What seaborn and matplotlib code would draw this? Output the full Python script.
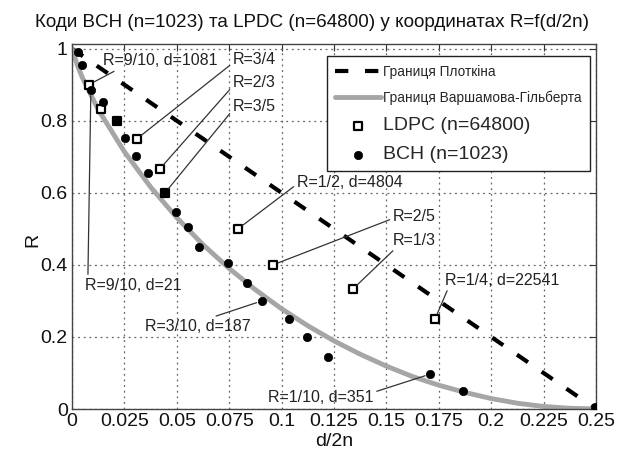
import matplotlib
matplotlib.use("Agg")
import matplotlib.pyplot as plt
import seaborn as sns
import pandas as pd

# ---------------- data ----------------
title = "Коди BCH (n=1023) та LPDC (n=64800) у координатах R=f(d/2n)"
xlabel = "d/2n"
ylabel = "R"

plotkin_x = [0.0, 0.25]
plotkin_r = [1.0, 0.0]

gv_x = [0.0, 0.0025, 0.005, 0.0125, 0.025, 0.0375, 0.05, 0.0625, 0.075, 0.0875,
        0.1, 0.1125, 0.125, 0.1375, 0.15, 0.1625, 0.175, 0.1875, 0.2, 0.2125,
        0.225, 0.2375, 0.25]
gv_r = [1.0, 0.955, 0.919, 0.831, 0.714, 0.616, 0.531, 0.456, 0.390, 0.331,
        0.278, 0.231, 0.189, 0.152, 0.119, 0.090, 0.066, 0.046, 0.029, 0.016,
        0.007, 0.002, 0.0]

ldpc_x = [0.008, 0.0138, 0.0215, 0.031, 0.042, 0.0444, 0.0792, 0.0959, 0.134, 0.1732]
ldpc_r = [0.9, 0.833, 0.8, 0.75, 0.667, 0.6, 0.5, 0.4, 0.333, 0.25]

bch_x = [0.003, 0.0048, 0.009, 0.0148, 0.0215, 0.0253, 0.0305, 0.0363, 0.0444,
         0.0496, 0.0553, 0.0606, 0.0744, 0.0835, 0.0906, 0.1035, 0.112, 0.122,
         0.171, 0.1865, 0.2495]
bch_r = [0.99, 0.955, 0.885, 0.853, 0.80, 0.753, 0.703, 0.655, 0.603, 0.547,
         0.505, 0.45, 0.405, 0.35, 0.30, 0.25, 0.20, 0.144, 0.097, 0.05, 0.006]

legend_labels = ["Границя Плоткіна", "Границя Варшамова-Гільберта",
                 "LDPC (n=64800)", "BCH (n=1023)"]

x_ticks = [0, 0.025, 0.05, 0.075, 0.1, 0.125, 0.15, 0.175, 0.2, 0.225, 0.25]
x_tick_labels = ["0", "0.025", "0.05", "0.075", "0.1", "0.125", "0.15", "0.175",
                 "0.2", "0.225", "0.25"]
y_ticks = [0, 0.2, 0.4, 0.6, 0.8, 1.0]
y_tick_labels = ["0", "0.2", "0.4", "0.6", "0.8", "1"]

# annotations: (text, series, index, text_x, text_y, relpos)
annotations = [
    ("R=9/10, d=1081", "ldpc", 0, 0.0148, 0.967, (0.15, 0.0)),
    ("R=3/4", "ldpc", 3, 0.0768, 0.969, (0.0, 0.3)),
    ("R=2/3", "ldpc", 4, 0.0768, 0.905, (0.0, 0.3)),
    ("R=3/5", "ldpc", 5, 0.0768, 0.839, (0.0, 0.3)),
    ("R=1/2, d=4804", "ldpc", 6, 0.1073, 0.628, (0.0, 0.4)),
    ("R=2/5", "ldpc", 7, 0.1531, 0.533, (0.0, 0.4)),
    ("R=1/3", "ldpc", 8, 0.1531, 0.469, (0.08, 0.0)),
    ("R=1/4, d=22541", "ldpc", 9, 0.1780, 0.358, (0.03, 0.0)),
    ("R=9/10, d=21", "bch", 2, 0.0062, 0.344, (0.03, 1.0)),
    ("R=3/10, d=187", "bch", 14, 0.0348, 0.228, (0.58, 1.0)),
    ("R=1/10, d=351", "bch", 18, 0.0935, 0.033, (0.97, 0.75)),
]

# ---------------- figure ----------------
sns.set_theme(style="white")
plt.rcParams["font.family"] = ["Liberation Sans", "DejaVu Sans"]

fig = plt.figure(figsize=(6.17, 4.59), dpi=100)
ax = fig.add_axes([72 / 617, 50 / 459, 524 / 617, 365 / 459])

sns.lineplot(x=plotkin_x, y=plotkin_r, ax=ax, color="black", lw=3,
             sort=False, estimator=None, label=legend_labels[0])
ax.lines[-1].set_dashes((3.2, 4.0))
ax.lines[-1].set_dash_capstyle("butt")

sns.lineplot(x=gv_x, y=gv_r, ax=ax, color="#a6a6a6", lw=3.5,
             sort=False, estimator=None, label=legend_labels[1])

sns.scatterplot(x=ldpc_x, y=ldpc_r, ax=ax, marker="s", s=38, facecolor="white",
                edgecolor="black", linewidth=1.6, label=legend_labels[2], zorder=4)
sns.scatterplot(x=bch_x, y=bch_r, ax=ax, marker="o", s=36, color="black",
                edgecolor="black", linewidth=0.5, label=legend_labels[3], zorder=5)

series = {"ldpc": (ldpc_x, ldpc_r), "bch": (bch_x, bch_r)}
for text, ser, idx, tx, ty, rp in annotations:
    sx, sy = series[ser]
    ax.annotate(text, xy=(sx[idx], sy[idx]), xytext=(tx, ty), textcoords="data",
                ha="left", va="center", fontsize=11.5, color="#222222",
                arrowprops=dict(arrowstyle="-", lw=0.9, color="#333333",
                                relpos=rp, shrinkA=0, shrinkB=4),
                zorder=6)

ax.set_xlim(0, 0.25)
ax.set_ylim(0, 1.013)
ax.set_xticks(x_ticks)
ax.set_xticklabels(x_tick_labels)
ax.set_yticks(y_ticks)
ax.set_yticklabels(y_tick_labels)
ax.tick_params(direction="in", top=True, right=True, length=5, width=0.8,
               labelsize=14, color="#333333", labelcolor="#111111", pad=3)
ax.grid(True, linestyle=(0, (1.5, 3.0)), color="#666666", lw=0.9)
for sp in ax.spines.values():
    sp.set_color("#444444")
    sp.set_linewidth(1.0)

ax.set_title(title, fontsize=13.6, color="#111111", pad=12, x=0.458)
ax.set_xlabel(xlabel, fontsize=14, color="#111111", labelpad=2)
ax.set_ylabel(ylabel, fontsize=14, color="#111111")
ax.yaxis.set_label_coords(-0.058, 0.463)

handles, labels = ax.get_legend_handles_labels()
leg = ax.legend(handles, labels, loc="upper right", bbox_to_anchor=(0.989, 0.966),
                borderaxespad=0, fontsize=9.8, frameon=True, fancybox=False,
                edgecolor="#222222", framealpha=1, handlelength=3.4,
                handletextpad=0.15, labelspacing=0.88, borderpad=0.6)
leg.get_frame().set_linewidth(1.0)
for t in leg.get_texts()[2:]:
    t.set_fontsize(14)

fig.savefig("out.png", dpi=100)
